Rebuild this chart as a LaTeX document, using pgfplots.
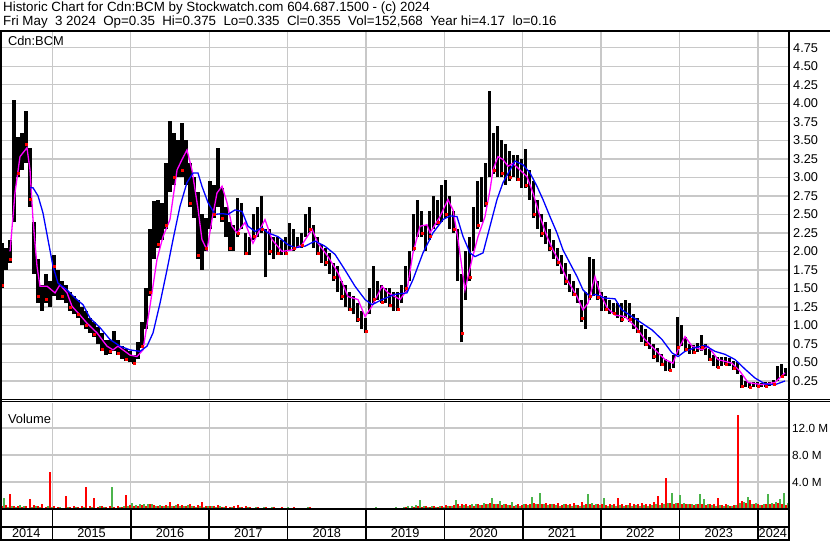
\documentclass[border=0pt]{standalone}
\usepackage{pgfplots}
\pgfplotsset{compat=1.18}
\usepackage{pgfplotstable}
\usepackage{fontspec}
\setmainfont{Liberation Sans}

\definecolor{gridgray}{RGB}{200,200,200}
\definecolor{volgreen}{RGB}{76,180,76}
\definecolor{mablue}{RGB}{0,0,255}
\definecolor{mamag}{RGB}{255,0,255}
\newcommand{\swfont}{\fontsize{13.4}{15}\selectfont}
\newcommand{\lblfont}{\fontsize{12.9}{14}\selectfont}
\newcommand{\tickfont}{\fontsize{12.8}{14}\selectfont}
\newcommand{\volfont}{\fontsize{11.8}{13}\selectfont}
\newcommand{\yearfont}{\fontsize{12.8}{14}\selectfont}

% t = decimal year, lo/hi = price range, r = red close dot, vr/vg = volume (millions)
\pgfplotstableread{
t lo hi r vr vg
2014.358 1.50 2.12 1.55 0.4 1.6
2014.409 1.75 2.05 nan 0.6 0.3
2014.460 1.85 2.15 1.90 2.2 0.4
2014.511 2.40 4.05 nan 0.5 0.3
2014.562 3.00 3.55 3.05 0.4 0.6
2014.613 3.10 3.60 nan 0.3 0.4
2014.664 3.20 3.89 3.45 0.5 0.2
2014.715 2.60 3.40 2.70 1.5 0.3
2014.766 1.70 2.40 nan 0.6 0.4
2014.817 1.30 1.90 1.40 0.4 0.3
2014.868 1.20 1.55 nan 0.7 0.2
2014.919 1.30 1.70 1.35 0.3 0.4
2014.970 1.25 1.60 nan 5.5 0.3
2015.021 1.40 1.95 1.80 0.4 0.2
2015.072 1.35 1.75 nan 0.3 0.3
2015.123 1.35 1.60 1.40 0.2 0.2
2015.174 1.30 1.55 nan 1.9 0.3
2015.225 1.20 1.45 1.25 0.3 0.2
2015.276 1.15 1.40 nan 0.4 0.3
2015.327 1.10 1.35 1.15 0.3 0.2
2015.378 1.00 1.25 nan 0.5 0.3
2015.429 0.95 1.20 1.00 3.3 0.2
2015.480 0.90 1.10 nan 0.4 0.3
2015.531 0.85 1.05 0.88 1.6 0.2
2015.582 0.75 0.98 nan 0.3 0.4
2015.633 0.65 0.90 0.68 0.4 0.3
2015.684 0.60 0.80 nan 0.3 0.2
2015.735 0.62 0.80 0.65 0.4 3.3
2015.786 0.65 0.92 nan 0.3 0.2
2015.837 0.60 0.80 0.62 0.4 0.3
2015.888 0.55 0.72 nan 0.3 0.4
2015.939 0.52 0.68 0.55 2.1 0.5
2015.990 0.50 0.66 nan 0.6 0.9
2016.041 0.48 0.60 0.49 0.4 0.6
2016.092 0.55 0.78 nan 0.5 0.7
2016.143 0.70 1.05 0.72 0.6 0.8
2016.194 0.95 1.50 nan 0.5 0.7
2016.245 1.40 2.30 1.45 0.7 0.8
2016.296 1.90 2.68 nan 0.6 0.5
2016.347 2.05 2.70 2.10 0.5 0.6
2016.398 2.15 2.65 nan 0.4 0.5
2016.449 2.30 3.20 2.35 0.6 0.4
2016.500 2.80 3.76 nan 1.0 0.5
2016.551 2.90 3.60 3.00 0.5 0.6
2016.602 3.00 3.50 nan 0.7 0.4
2016.653 3.00 3.73 3.10 0.6 0.5
2016.704 2.90 3.50 nan 0.4 0.6
2016.755 2.60 3.20 2.65 0.8 0.4
2016.806 2.45 3.00 nan 0.5 0.3
2016.857 1.90 2.80 1.95 0.6 0.4
2016.908 1.75 2.50 nan 1.0 0.3
2016.959 2.00 2.45 2.05 0.4 0.5
2017.010 2.30 2.95 nan 0.5 0.4
2017.061 2.45 2.90 2.50 0.4 0.3
2017.112 2.60 3.40 nan 0.6 0.4
2017.163 2.40 2.85 2.45 0.3 0.3
2017.214 2.20 2.60 nan 0.4 0.2
2017.265 2.00 2.40 2.05 0.3 0.3
2017.316 2.00 2.35 nan 0.4 0.2
2017.367 2.20 2.72 2.25 0.6 0.3
2017.418 2.30 2.65 nan 0.3 0.2
2017.469 1.95 2.25 1.98 0.4 0.3
2017.520 1.95 2.20 nan 0.3 0.2
2017.571 2.15 2.50 2.20 0.2 0.3
2017.622 2.20 2.60 nan 0.3 0.2
2017.673 2.25 2.75 2.30 0.2 0.3
2017.724 1.65 2.30 nan 0.3 0.2
2017.775 1.95 2.30 2.00 0.2 0.3
2017.826 1.90 2.20 nan 0.3 0.2
2017.877 1.95 2.20 1.98 0.2 0.2
2017.928 1.95 2.15 nan 0.3 0.2
2017.979 1.95 2.20 1.98 0.2 0.3
2018.030 2.00 2.38 nan 0.2 0.2
2018.081 2.00 2.30 2.05 0.3 0.2
2018.132 2.05 2.20 nan 0.2 0.2
2018.183 2.05 2.25 2.08 0.2 0.2
2018.234 2.20 2.50 nan 0.2 0.3
2018.285 2.25 2.60 2.30 0.3 0.2
2018.336 2.05 2.35 nan 0.2 0.2
2018.387 1.95 2.20 1.98 0.2 0.2
2018.438 1.85 2.10 nan 0.2 0.1
2018.489 1.80 2.05 1.85 0.1 0.2
2018.540 1.70 1.98 nan 0.2 0.1
2018.591 1.60 1.85 1.65 0.1 0.2
2018.642 1.45 1.80 nan 0.2 0.1
2018.693 1.35 1.60 1.40 0.1 0.2
2018.744 1.25 1.55 nan 0.2 0.2
2018.795 1.20 1.45 1.22 0.2 0.1
2018.846 1.15 1.40 nan 0.1 0.2
2018.897 1.05 1.30 1.08 0.2 0.2
2018.948 0.95 1.20 nan 0.2 0.1
2018.999 0.90 1.10 0.92 0.1 0.2
2019.050 1.15 1.50 nan 0.2 0.2
2019.101 1.30 1.80 1.35 0.2 0.3
2019.152 1.35 1.60 nan 0.2 0.2
2019.203 1.30 1.55 1.32 0.1 0.2
2019.254 1.30 1.50 nan 0.2 0.2
2019.305 1.25 1.50 1.28 0.2 0.1
2019.356 1.20 1.45 nan 0.2 0.3
2019.407 1.20 1.45 1.22 0.1 0.2
2019.458 1.30 1.55 nan 0.2 0.3
2019.509 1.45 1.80 1.50 0.3 0.5
2019.560 1.60 2.00 nan 0.2 0.4
2019.611 2.00 2.50 2.05 0.3 0.6
2019.662 2.20 2.70 nan 0.4 1.3
2019.713 2.20 2.55 2.25 0.3 0.4
2019.764 2.00 2.35 nan 0.4 0.3
2019.815 2.15 2.55 2.20 0.3 0.4
2019.866 2.30 2.75 nan 0.4 0.3
2019.917 2.35 2.70 2.40 0.3 0.5
2019.968 2.40 2.90 nan 0.4 0.3
2020.019 2.45 2.97 2.50 0.6 0.5
2020.070 2.30 2.75 nan 0.5 0.4
2020.121 2.25 2.55 2.30 0.6 1.3
2020.172 1.60 2.30 nan 0.7 0.5
2020.223 0.77 1.70 0.90 0.8 0.6
2020.274 1.35 2.00 nan 0.7 0.5
2020.325 1.60 2.20 1.65 0.6 0.7
2020.376 2.00 2.60 nan 0.5 0.8
2020.427 2.30 2.95 2.35 0.7 0.6
2020.478 2.40 3.00 nan 0.6 0.9
2020.529 2.60 3.20 2.65 0.8 0.7
2020.580 3.00 4.16 nan 0.9 1.6
2020.631 3.05 3.60 3.10 0.7 0.8
2020.682 3.00 3.70 nan 0.8 1.2
2020.733 3.00 3.50 3.05 0.6 0.7
2020.784 2.90 3.45 nan 0.7 0.6
2020.835 2.95 3.35 3.00 0.6 1.0
2020.886 3.00 3.30 nan 0.5 0.6
2020.937 2.95 3.30 2.98 0.7 0.5
2020.988 2.85 3.25 nan 0.6 0.7
2021.039 2.85 3.38 2.90 0.8 0.6
2021.090 2.70 3.10 nan 0.7 1.8
2021.141 2.45 2.95 2.50 0.9 0.7
2021.192 2.30 2.70 nan 0.8 2.3
2021.243 2.20 2.50 2.25 0.7 0.8
2021.294 2.10 2.40 nan 0.9 0.6
2021.345 2.00 2.30 2.05 0.8 0.7
2021.396 1.90 2.15 nan 0.7 0.6
2021.447 1.80 2.05 1.85 0.9 0.5
2021.498 1.70 1.95 nan 0.6 0.7
2021.549 1.55 1.85 1.60 0.8 0.6
2021.600 1.45 1.70 nan 0.7 0.5
2021.651 1.40 1.60 1.42 0.9 0.6
2021.702 1.30 1.50 nan 0.6 0.5
2021.753 1.05 1.35 1.10 1.0 0.6
2021.804 0.95 1.45 nan 0.8 2.2
2021.855 1.35 1.93 1.40 0.7 0.9
2021.906 1.40 1.90 nan 0.6 0.8
2021.957 1.35 1.60 1.38 0.8 0.6
2022.008 1.20 1.45 nan 0.7 1.6
2022.059 1.20 1.40 1.22 0.6 0.5
2022.110 1.15 1.35 nan 0.8 0.6
2022.161 1.15 1.30 1.16 0.7 0.5
2022.212 1.10 1.30 nan 1.6 0.6
2022.263 1.05 1.30 1.08 0.8 0.5
2022.314 1.10 1.35 nan 0.6 0.6
2022.365 1.05 1.30 1.08 0.9 0.5
2022.416 0.95 1.15 nan 0.7 0.6
2022.467 0.90 1.10 0.92 0.8 0.5
2022.518 0.78 1.00 nan 0.9 0.6
2022.569 0.72 0.95 0.75 0.7 0.5
2022.620 0.68 0.85 nan 0.8 0.6
2022.671 0.55 0.75 0.58 1.0 0.7
2022.722 0.50 0.70 nan 1.9 0.6
2022.773 0.45 0.62 0.48 0.9 0.8
2022.824 0.38 0.55 nan 4.6 0.9
2022.875 0.38 0.50 0.40 0.9 2.4
2022.926 0.42 0.60 nan 0.8 0.9
2022.977 0.60 1.12 0.70 0.9 2.0
2023.028 0.72 1.00 nan 0.8 0.9
2023.079 0.65 0.85 0.68 0.7 0.8
2023.130 0.62 0.75 nan 0.8 0.7
2023.181 0.62 0.74 0.64 0.6 0.8
2023.232 0.64 0.76 nan 0.7 2.2
2023.283 0.66 0.87 0.70 0.8 1.5
2023.334 0.60 0.75 nan 0.6 0.7
2023.385 0.52 0.68 0.55 0.7 0.6
2023.436 0.45 0.60 nan 0.8 0.5
2023.487 0.42 0.58 0.44 1.6 0.6
2023.538 0.45 0.58 nan 0.6 0.5
2023.589 0.47 0.58 0.48 0.7 0.6
2023.640 0.45 0.56 nan 0.5 0.5
2023.691 0.40 0.52 0.42 0.6 0.6
2023.742 0.35 0.50 nan 13.9 0.9
2023.793 0.16 0.33 0.18 1.2 1.0
2023.844 0.17 0.25 nan 0.9 1.8
2023.895 0.16 0.22 0.17 1.4 0.8
2023.946 0.17 0.24 nan 0.8 0.9
2023.997 0.17 0.23 0.18 0.7 0.6
2024.048 0.17 0.22 nan 0.6 0.8
2024.099 0.17 0.24 0.18 0.7 2.2
2024.150 0.18 0.24 nan 0.8 0.9
2024.201 0.19 0.26 0.20 0.7 1.0
2024.252 0.25 0.45 nan 0.9 1.5
2024.303 0.30 0.48 0.32 0.8 2.4
2024.354 0.32 0.42 nan 0.6 0.9
}\price

% short moving average (magenta)
\pgfplotstableread{
t p
2014.460 2.00
2014.523 2.79
2014.587 3.28
2014.676 3.40
2014.715 3.10
2014.753 2.43
2014.804 1.80
2014.842 1.53
2014.932 1.53
2015.034 1.44
2015.097 1.55
2015.187 1.44
2015.250 1.26
2015.352 1.14
2015.442 1.03
2015.569 0.90
2015.697 0.72
2015.773 0.67
2015.837 0.72
2015.990 0.60
2016.079 0.58
2016.156 0.67
2016.245 1.26
2016.334 1.89
2016.411 2.20
2016.500 2.43
2016.590 3.10
2016.653 3.24
2016.717 3.37
2016.781 3.10
2016.857 2.58
2016.908 2.16
2016.972 2.02
2017.036 2.43
2017.100 2.79
2017.164 2.88
2017.227 2.66
2017.291 2.34
2017.355 2.25
2017.457 2.39
2017.559 2.11
2017.648 2.30
2017.712 2.43
2017.801 2.16
2017.929 2.00
2018.056 2.02
2018.184 2.09
2018.312 2.30
2018.388 2.11
2018.516 1.93
2018.643 1.71
2018.771 1.39
2018.898 1.35
2018.988 1.12
2019.077 1.26
2019.205 1.53
2019.281 1.44
2019.370 1.39
2019.434 1.35
2019.523 1.48
2019.600 1.98
2019.689 2.34
2019.778 2.36
2019.817 2.25
2019.944 2.47
2020.046 2.70
2020.110 2.56
2020.174 2.16
2020.263 1.48
2020.352 1.89
2020.429 2.20
2020.518 2.47
2020.582 2.83
2020.620 3.10
2020.684 3.28
2020.748 3.24
2020.812 3.15
2020.875 3.19
2020.964 3.10
2021.054 3.01
2021.130 2.79
2021.220 2.47
2021.309 2.20
2021.385 2.02
2021.475 1.84
2021.564 1.62
2021.692 1.39
2021.768 1.21
2021.832 1.30
2021.921 1.66
2021.985 1.44
2022.074 1.24
2022.176 1.14
2022.304 1.12
2022.432 0.99
2022.559 0.81
2022.687 0.67
2022.814 0.54
2022.916 0.49
2022.980 0.67
2023.069 0.85
2023.159 0.72
2023.286 0.67
2023.363 0.72
2023.490 0.54
2023.669 0.49
2023.771 0.38
2023.873 0.23
2024.051 0.20
2024.217 0.23
2024.345 0.36
}\mafast

% long moving average (blue)
\pgfplotstableread{
t p
2014.715 2.86
2014.753 2.86
2014.817 2.75
2014.880 2.52
2014.944 2.16
2015.008 1.80
2015.072 1.57
2015.187 1.48
2015.289 1.37
2015.391 1.28
2015.480 1.10
2015.608 0.97
2015.735 0.81
2015.863 0.72
2015.990 0.67
2016.118 0.65
2016.207 0.72
2016.284 0.90
2016.373 1.30
2016.462 1.75
2016.539 2.16
2016.628 2.61
2016.717 2.93
2016.794 3.06
2016.857 3.06
2016.908 2.88
2016.985 2.66
2017.074 2.50
2017.164 2.51
2017.240 2.50
2017.329 2.56
2017.419 2.54
2017.495 2.34
2017.585 2.27
2017.674 2.32
2017.750 2.25
2017.878 2.20
2018.005 2.09
2018.095 2.05
2018.222 2.07
2018.350 2.14
2018.477 2.07
2018.605 1.96
2018.732 1.75
2018.860 1.53
2018.988 1.35
2019.077 1.28
2019.205 1.35
2019.370 1.42
2019.523 1.44
2019.600 1.62
2019.727 1.98
2019.855 2.25
2019.982 2.43
2020.072 2.48
2020.161 2.47
2020.238 2.20
2020.327 1.98
2020.391 1.93
2020.493 1.98
2020.582 2.34
2020.671 2.70
2020.748 2.93
2020.837 3.10
2020.901 3.22
2021.003 3.17
2021.092 3.06
2021.181 2.88
2021.258 2.70
2021.347 2.47
2021.436 2.25
2021.513 2.02
2021.602 1.84
2021.692 1.66
2021.768 1.48
2021.857 1.39
2021.921 1.42
2022.049 1.37
2022.176 1.36
2022.265 1.21
2022.393 1.12
2022.521 1.03
2022.648 0.94
2022.776 0.81
2022.903 0.63
2022.980 0.58
2023.069 0.65
2023.197 0.70
2023.324 0.73
2023.452 0.65
2023.579 0.61
2023.707 0.54
2023.835 0.41
2023.962 0.29
2024.090 0.21
2024.217 0.20
2024.345 0.25
}\maslow

\begin{document}
\begin{tikzpicture}
\useasboundingbox (0bp,0bp) rectangle (830bp,543bp);

% header
\node[anchor=west, inner sep=0pt, font=\swfont] at (3bp,535bp)
  {Historic Chart for Cdn:BCM by Stockwatch.com 604.687.1500 - (c) 2024};
\node[anchor=west, inner sep=0pt, font=\swfont] at (3bp,521bp)
  {Fri May\ \ 3 2024\ \ Op=0.35\ \ Hi=0.375\ \ Lo=0.335\ \ Cl=0.355\ \ Vol=152,568\ \ Year hi=4.17\ \ lo=0.16};

% price panel
\begin{axis}[
  at={(0bp,143.5bp)}, anchor=south west,
  scale only axis, width=788bp, height=368bp,
  xmin=2014.332, xmax=2024.383, ymin=0, ymax=4.97,
  axis line style={draw=none}, major tick length=0pt,
  xtick={2015,...,2024}, xticklabels={},
  ytick={0.25,0.5,...,4.75},
  yticklabel pos=right,
  y tick label style={font=\tickfont, anchor=west, inner sep=0pt, xshift=5bp,
    /pgf/number format/.cd, fixed, fixed zerofill, precision=2, assume math mode=true},
  grid=major, grid style={gridgray, line width=1.3bp},
]
% high-low bars
\addplot[black, line width=3.1bp, mark=none,
  quiver={u value=0, v=\thisrow{hi}-\thisrow{lo}}]
  table[x=t, y=lo] {\price};
\addplot[only marks, mark=square*, mark size=1bp, red, mark options={draw=none}]
  table[x=t, y=r] {\price};
\addplot[mamag, line width=1.3bp, mark=none] table[x=t, y=p] {\mafast};
\addplot[mablue, line width=1.3bp, mark=none] table[x=t, y=p] {\maslow};
\node[anchor=west, inner sep=0pt, font=\lblfont] at (rel axis cs:0.01,0.975) {Cdn:BCM};
\end{axis}

% volume panel
\begin{axis}[
  at={(0bp,34bp)}, anchor=south west,
  scale only axis, width=788bp, height=106bp,
  xmin=2014.332, xmax=2024.383, ymin=0, ymax=15.7,
  axis line style={draw=none}, major tick length=0pt,
  xtick={2015,...,2024}, xticklabels={},
  ytick={4,8,12}, yticklabels={4.0 M,8.0 M,12.0 M},
  yticklabel pos=right,
  y tick label style={font=\volfont, anchor=west, inner sep=0pt, xshift=4bp},
  grid=major, grid style={gridgray, line width=1.3bp},
  clip=false,
]
\addplot[ycomb, red, line width=1.8bp, mark=none] table[x=t, y=vr] {\price};
\addplot[ycomb, volgreen, line width=1.8bp, mark=none, xshift=2bp] table[x=t, y=vg] {\price};
\node[anchor=west, inner sep=0pt, font=\lblfont] at (rel axis cs:0.01,0.85) {Volume};
% year dividers and labels
\pgfplotsinvokeforeach{2015,...,2024}{
  \draw[black, line width=1.6bp] (axis cs:#1,0) -- ++(0bp,-31bp);
}
\pgfplotsinvokeforeach{2015,...,2023}{
  \node[font=\yearfont, inner sep=0pt] at ([yshift=-24.5bp]axis cs:#1.5,0) {#1};
}
\node[font=\yearfont, inner sep=0pt] at ([yshift=-24.5bp]axis cs:2014.666,0) {2014};
\node[font=\yearfont, inner sep=0pt] at ([yshift=-24.5bp]axis cs:2024.19,0) {2024};
\end{axis}

% frame
\draw[black, line width=2bp] (0bp,512bp) -- (830bp,512bp);
\draw[black, line width=2.5bp] (1bp,2bp) -- (1bp,512bp);
\draw[black, line width=2bp] (789bp,2bp) -- (789bp,512bp);
\draw[black, line width=1bp] (0bp,143bp) -- (830bp,143bp);
\draw[black, line width=1bp] (0bp,141bp) -- (830bp,141bp);
\draw[black, line width=2bp] (0bp,34bp) -- (789bp,34bp);
\draw[black, line width=2bp] (0bp,16bp) -- (789bp,16bp);
\draw[black, line width=2bp] (0bp,3bp) -- (789bp,3bp);
\end{tikzpicture}
\end{document}
